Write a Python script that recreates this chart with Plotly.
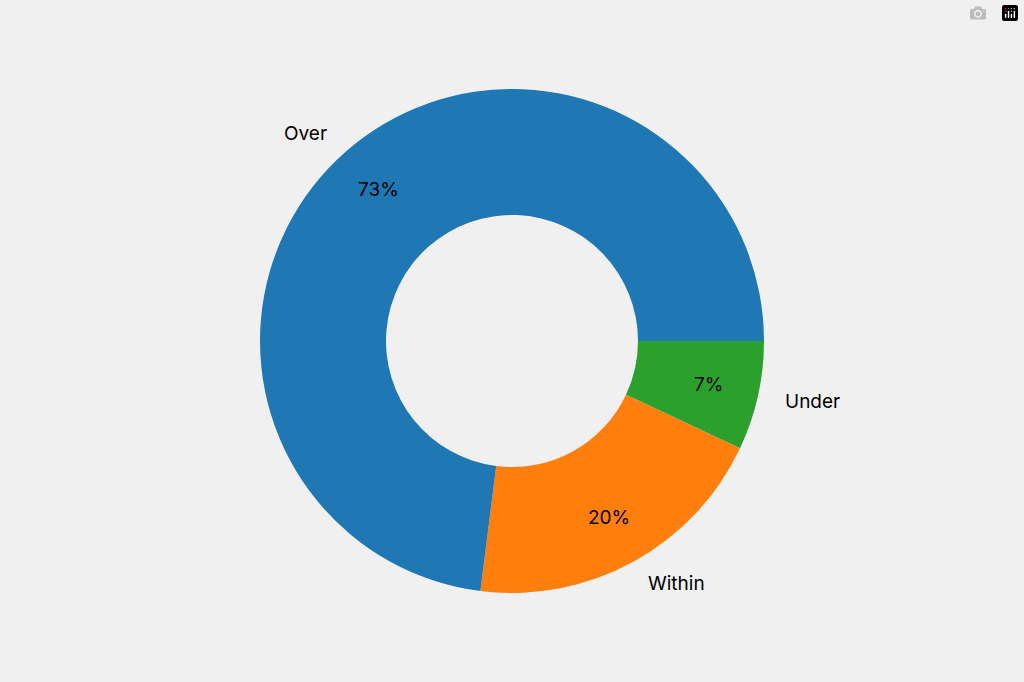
import math
import plotly.graph_objects as go

labels = ["Over", "Within", "Under"]
values = [73, 20, 7]
colors = ["#1f77b4", "#ff7f0e", "#2ca02c"]

W, H = 1024, 682
cx, cy, R = 512, 341, 252
fig = go.Figure(go.Pie(
    labels=labels[::-1], values=values[::-1], sort=False, direction="clockwise",
    rotation=90, hole=0.5, marker=dict(colors=colors[::-1]), textinfo="none",
    hoverinfo="label+percent", showlegend=False,
    domain=dict(x=[(cx - R) / W, (cx + R) / W], y=[(H - cy - R) / H, (H - cy + R) / H]),
))

total = sum(values)
ann = []
start = 0.0
for lab, v in zip(labels, values):
    frac = v / total
    mid = (start + frac / 2) * 2 * math.pi
    start += frac
    c, s = math.cos(mid), math.sin(mid)
    ann.append(dict(x=(cx + 0.8 * R * c) / W, y=(H - cy + 0.8 * R * s) / H,
                    text=f"{round(frac*100)}%", showarrow=False,
                    xanchor="center", yanchor="middle"))
    ann.append(dict(x=(cx + 1.1 * R * c) / W, y=(H - cy + 1.1 * R * s) / H,
                    text=lab, showarrow=False,
                    xanchor="left" if c > 0 else "right", yanchor="middle"))
for a in ann:
    a.update(xref="paper", yref="paper", font=dict(size=19, color="black"))

fig.update_layout(width=W, height=H, margin=dict(l=0, r=0, t=0, b=0),
                  paper_bgcolor="#f0f0f0", plot_bgcolor="#f0f0f0",
                  font=dict(family="Inter, Lato, sans-serif"), annotations=ann)
fig.write_html("out.html",
               post_script="document.body.style.margin='0';document.body.style.background='#f0f0f0';")
